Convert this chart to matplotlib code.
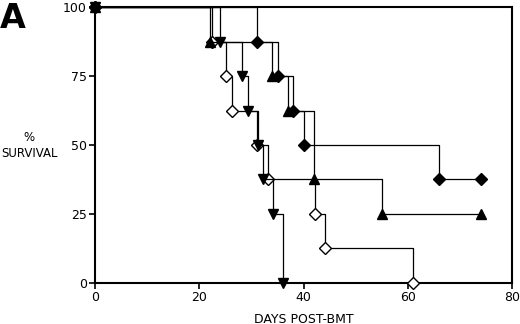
import matplotlib
matplotlib.use("Agg")
import matplotlib.pyplot as plt

# Kaplan-Meier style survival data (days, % survival)
fd_days = [0, 31, 35, 38, 40, 66, 74]
fd_surv = [100, 87.5, 75, 62.5, 50, 37.5, 37.5]

tu_days = [0, 22, 34, 37, 42, 55, 74]
tu_surv = [100, 87.5, 75, 62.5, 37.5, 25, 25]

td_days = [0, 24, 28.2, 29.3, 31.3, 32.2, 34.2, 36]
td_surv = [100, 87.5, 75, 62.5, 50, 37.5, 25, 0]

od_days = [0, 22.4, 25.1, 26.3, 31, 33.2, 42.2, 44.1, 61]
od_surv = [100, 87.5, 75, 62.5, 50, 37.5, 25, 12.5, 0]

x_ticks = [0, 20, 40, 60, 80]
y_ticks = [0, 25, 50, 75, 100]

plt.rcParams['font.family'] = ['DejaVu Sans']

fig = plt.figure(figsize=(5.2, 3.24), dpi=100)
ax = fig.add_axes([0.183, 0.127, 0.802, 0.851])

lw = 0.9
ms = 7
ax.step(od_days, od_surv, where='post', color='black', lw=lw, marker='D',
        markersize=ms - 1, markerfacecolor='white', markeredgecolor='black',
        markeredgewidth=1.0, clip_on=False, zorder=3)
ax.step(td_days, td_surv, where='post', color='black', lw=lw, marker='v',
        markersize=ms, markerfacecolor='black', markeredgecolor='black',
        clip_on=False, zorder=3)
ax.step(tu_days, tu_surv, where='post', color='black', lw=lw, marker='^',
        markersize=ms, markerfacecolor='black', markeredgecolor='black',
        clip_on=False, zorder=3)
ax.step(fd_days, fd_surv, where='post', color='black', lw=lw, marker='D',
        markersize=ms - 1, markerfacecolor='black', markeredgecolor='black',
        clip_on=False, zorder=3)

ax.set_xlim(0, 80)
ax.set_ylim(0, 100)
ax.set_xticks(x_ticks)
ax.set_yticks(y_ticks)
ax.tick_params(axis='both', direction='out', length=4, width=1.2,
               labelsize=9, pad=2)
for s in ax.spines.values():
    s.set_linewidth(1.5)

ax.set_xlabel('DAYS POST-BMT', fontsize=9, labelpad=6)
fig.text(0.056, 0.55, '%\nSURVIVAL', ha='center', va='center', fontsize=8.5,
         linespacing=1.3)
fig.text(0.0, 0.995, 'A', ha='left', va='top', fontsize=24, fontweight='bold')

fig.savefig('out.png', dpi=100)
